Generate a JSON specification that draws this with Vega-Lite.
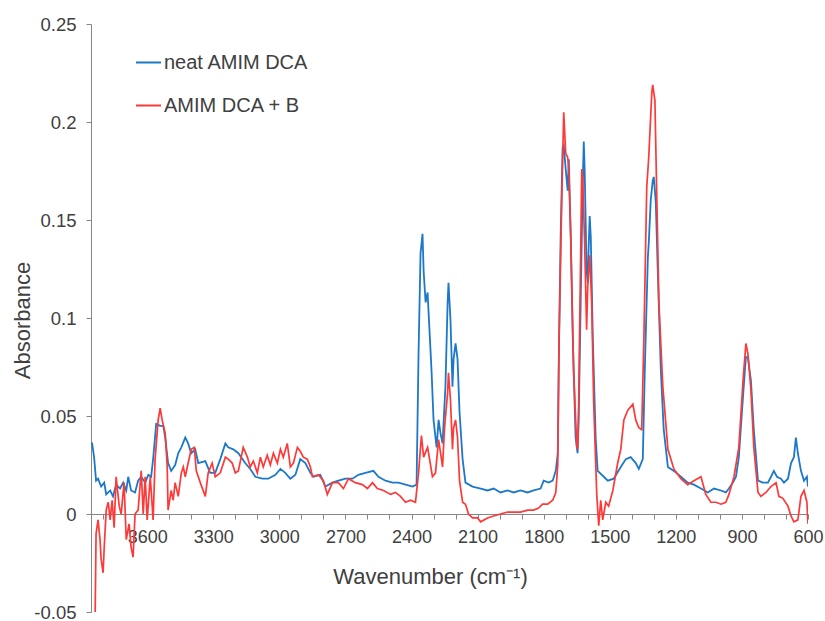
{
"$schema": "https://vega.github.io/schema/vega-lite/v6.json",
"width": 717, "height": 588,
"autosize": {"type": "none"},
"padding": {"left": 91, "top": 24, "right": 17, "bottom": 9},
"background": "white",
"config": {"view": {"stroke": null}, "font": "Liberation Sans"},
"datasets": {
"blue": [
{"w":3855,"a":0.036},{"w":3850,"a":0.036},{"w":3841,"a":0.029},{"w":3832,"a":0.017},{"w":3823,"a":0.018},{"w":3809,"a":0.014},{"w":3795,"a":0.016},{"w":3786,"a":0.010},{"w":3768,"a":0.012},{"w":3755,"a":0.009},{"w":3741,"a":0.015},{"w":3723,"a":0.013},{"w":3709,"a":0.016},{"w":3695,"a":0.012},{"w":3686,"a":0.019},{"w":3673,"a":0.012},{"w":3655,"a":0.011},{"w":3641,"a":0.017},{"w":3627,"a":0.019},{"w":3609,"a":0.016},{"w":3595,"a":0.020},{"w":3582,"a":0.019},{"w":3573,"a":0.028},{"w":3559,"a":0.046},{"w":3541,"a":0.045},{"w":3527,"a":0.045},{"w":3518,"a":0.039},{"w":3505,"a":0.026},{"w":3491,"a":0.022},{"w":3473,"a":0.025},{"w":3459,"a":0.031},{"w":3445,"a":0.034},{"w":3427,"a":0.039},{"w":3414,"a":0.036},{"w":3400,"a":0.031},{"w":3382,"a":0.033},{"w":3368,"a":0.026},{"w":3336,"a":0.027},{"w":3314,"a":0.021},{"w":3291,"a":0.021},{"w":3268,"a":0.028},{"w":3245,"a":0.036},{"w":3232,"a":0.034},{"w":3209,"a":0.033},{"w":3186,"a":0.031},{"w":3155,"a":0.026},{"w":3132,"a":0.023},{"w":3109,"a":0.019},{"w":3077,"a":0.018},{"w":3050,"a":0.018},{"w":3018,"a":0.020},{"w":2995,"a":0.023},{"w":2973,"a":0.021},{"w":2950,"a":0.018},{"w":2927,"a":0.020},{"w":2905,"a":0.028},{"w":2882,"a":0.026},{"w":2859,"a":0.021},{"w":2845,"a":0.019},{"w":2814,"a":0.020},{"w":2791,"a":0.014},{"w":2759,"a":0.016},{"w":2732,"a":0.017},{"w":2700,"a":0.018},{"w":2668,"a":0.018},{"w":2641,"a":0.020},{"w":2609,"a":0.021},{"w":2573,"a":0.022},{"w":2550,"a":0.019},{"w":2518,"a":0.017},{"w":2486,"a":0.016},{"w":2459,"a":0.016},{"w":2427,"a":0.015},{"w":2395,"a":0.014},{"w":2377,"a":0.015},{"w":2368,"a":0.082},{"w":2359,"a":0.133},{"w":2350,"a":0.143},{"w":2345,"a":0.124},{"w":2336,"a":0.108},{"w":2327,"a":0.113},{"w":2323,"a":0.104},{"w":2309,"a":0.073},{"w":2300,"a":0.048},{"w":2286,"a":0.034},{"w":2277,"a":0.048},{"w":2268,"a":0.041},{"w":2259,"a":0.036},{"w":2246,"a":0.065},{"w":2236,"a":0.108},{"w":2232,"a":0.118},{"w":2223,"a":0.099},{"w":2214,"a":0.065},{"w":2209,"a":0.079},{"w":2200,"a":0.087},{"w":2191,"a":0.079},{"w":2182,"a":0.052},{"w":2168,"a":0.028},{"w":2155,"a":0.016},{"w":2123,"a":0.014},{"w":2086,"a":0.013},{"w":2055,"a":0.012},{"w":2027,"a":0.013},{"w":1996,"a":0.011},{"w":1964,"a":0.012},{"w":1936,"a":0.011},{"w":1905,"a":0.012},{"w":1873,"a":0.011},{"w":1846,"a":0.012},{"w":1814,"a":0.013},{"w":1800,"a":0.017},{"w":1777,"a":0.016},{"w":1759,"a":0.017},{"w":1745,"a":0.022},{"w":1736,"a":0.031},{"w":1732,"a":0.073},{"w":1723,"a":0.141},{"w":1714,"a":0.187},{"w":1709,"a":0.188},{"w":1700,"a":0.176},{"w":1691,"a":0.165},{"w":1686,"a":0.181},{"w":1677,"a":0.141},{"w":1668,"a":0.090},{"w":1655,"a":0.039},{"w":1646,"a":0.031},{"w":1641,"a":0.048},{"w":1632,"a":0.108},{"w":1623,"a":0.167},{"w":1618,"a":0.190},{"w":1614,"a":0.176},{"w":1605,"a":0.124},{"w":1600,"a":0.118},{"w":1596,"a":0.135},{"w":1591,"a":0.152},{"w":1586,"a":0.141},{"w":1577,"a":0.090},{"w":1564,"a":0.039},{"w":1555,"a":0.022},{"w":1527,"a":0.019},{"w":1509,"a":0.017},{"w":1482,"a":0.018},{"w":1450,"a":0.024},{"w":1427,"a":0.028},{"w":1405,"a":0.029},{"w":1382,"a":0.026},{"w":1368,"a":0.023},{"w":1350,"a":0.028},{"w":1341,"a":0.073},{"w":1327,"a":0.131},{"w":1323,"a":0.138},{"w":1314,"a":0.160},{"w":1305,"a":0.170},{"w":1300,"a":0.172},{"w":1291,"a":0.159},{"w":1282,"a":0.124},{"w":1268,"a":0.073},{"w":1255,"a":0.043},{"w":1236,"a":0.024},{"w":1209,"a":0.022},{"w":1177,"a":0.019},{"w":1146,"a":0.016},{"w":1118,"a":0.015},{"w":1086,"a":0.013},{"w":1055,"a":0.011},{"w":1027,"a":0.013},{"w":995,"a":0.012},{"w":973,"a":0.011},{"w":959,"a":0.013},{"w":941,"a":0.016},{"w":927,"a":0.019},{"w":914,"a":0.029},{"w":895,"a":0.060},{"w":882,"a":0.080},{"w":873,"a":0.080},{"w":859,"a":0.068},{"w":846,"a":0.043},{"w":827,"a":0.017},{"w":805,"a":0.016},{"w":782,"a":0.016},{"w":768,"a":0.019},{"w":755,"a":0.022},{"w":741,"a":0.019},{"w":723,"a":0.018},{"w":709,"a":0.016},{"w":691,"a":0.018},{"w":677,"a":0.026},{"w":664,"a":0.029},{"w":655,"a":0.039},{"w":646,"a":0.031},{"w":632,"a":0.022},{"w":618,"a":0.017},{"w":605,"a":0.019},{"w":600,"a":0.014}
],
"red": [
{"w":3836,"a":-0.050},{"w":3832,"a":-0.010},{"w":3823,"a":-0.003},{"w":3814,"a":-0.013},{"w":3809,"a":-0.023},{"w":3800,"a":-0.030},{"w":3795,"a":-0.017},{"w":3786,"a":0.002},{"w":3777,"a":0.006},{"w":3768,"a":-0.003},{"w":3759,"a":0.007},{"w":3750,"a":-0.007},{"w":3741,"a":0.019},{"w":3727,"a":0.004},{"w":3718,"a":0.000},{"w":3705,"a":0.016},{"w":3695,"a":-0.013},{"w":3682,"a":-0.005},{"w":3673,"a":-0.017},{"w":3664,"a":-0.022},{"w":3655,"a":0.000},{"w":3641,"a":0.002},{"w":3627,"a":0.022},{"w":3618,"a":0.000},{"w":3609,"a":0.019},{"w":3600,"a":-0.003},{"w":3586,"a":0.019},{"w":3573,"a":-0.003},{"w":3564,"a":0.028},{"w":3550,"a":0.048},{"w":3541,"a":0.054},{"w":3532,"a":0.048},{"w":3518,"a":0.041},{"w":3509,"a":0.024},{"w":3505,"a":0.002},{"w":3491,"a":0.012},{"w":3482,"a":0.007},{"w":3473,"a":0.016},{"w":3459,"a":0.009},{"w":3445,"a":0.021},{"w":3436,"a":0.024},{"w":3427,"a":0.019},{"w":3414,"a":0.026},{"w":3400,"a":0.033},{"w":3386,"a":0.034},{"w":3377,"a":0.022},{"w":3359,"a":0.016},{"w":3336,"a":0.009},{"w":3323,"a":0.021},{"w":3305,"a":0.026},{"w":3291,"a":0.019},{"w":3268,"a":0.021},{"w":3245,"a":0.029},{"w":3232,"a":0.028},{"w":3214,"a":0.026},{"w":3200,"a":0.021},{"w":3186,"a":0.022},{"w":3164,"a":0.034},{"w":3145,"a":0.029},{"w":3132,"a":0.024},{"w":3118,"a":0.027},{"w":3100,"a":0.021},{"w":3086,"a":0.029},{"w":3073,"a":0.024},{"w":3055,"a":0.030},{"w":3041,"a":0.025},{"w":3027,"a":0.031},{"w":3009,"a":0.026},{"w":2995,"a":0.033},{"w":2982,"a":0.029},{"w":2964,"a":0.036},{"w":2950,"a":0.024},{"w":2936,"a":0.026},{"w":2918,"a":0.034},{"w":2905,"a":0.032},{"w":2891,"a":0.029},{"w":2873,"a":0.028},{"w":2859,"a":0.024},{"w":2850,"a":0.019},{"w":2823,"a":0.020},{"w":2800,"a":0.017},{"w":2782,"a":0.010},{"w":2759,"a":0.016},{"w":2732,"a":0.016},{"w":2709,"a":0.013},{"w":2686,"a":0.018},{"w":2655,"a":0.016},{"w":2623,"a":0.015},{"w":2600,"a":0.013},{"w":2577,"a":0.016},{"w":2555,"a":0.013},{"w":2527,"a":0.012},{"w":2495,"a":0.010},{"w":2473,"a":0.011},{"w":2450,"a":0.009},{"w":2427,"a":0.006},{"w":2405,"a":0.007},{"w":2382,"a":0.006},{"w":2368,"a":0.021},{"w":2355,"a":0.040},{"w":2345,"a":0.029},{"w":2327,"a":0.034},{"w":2318,"a":0.028},{"w":2305,"a":0.019},{"w":2291,"a":0.021},{"w":2277,"a":0.038},{"w":2259,"a":0.024},{"w":2250,"a":0.044},{"w":2236,"a":0.062},{"w":2232,"a":0.072},{"w":2223,"a":0.058},{"w":2214,"a":0.033},{"w":2209,"a":0.044},{"w":2200,"a":0.048},{"w":2191,"a":0.039},{"w":2182,"a":0.017},{"w":2168,"a":0.006},{"w":2155,"a":0.005},{"w":2141,"a":0.000},{"w":2123,"a":-0.002},{"w":2100,"a":-0.002},{"w":2086,"a":-0.004},{"w":2055,"a":-0.002},{"w":2027,"a":-0.001},{"w":1996,"a":0.000},{"w":1964,"a":0.001},{"w":1936,"a":0.001},{"w":1905,"a":0.001},{"w":1873,"a":0.002},{"w":1846,"a":0.002},{"w":1823,"a":0.003},{"w":1805,"a":0.005},{"w":1782,"a":0.005},{"w":1759,"a":0.007},{"w":1745,"a":0.011},{"w":1736,"a":0.025},{"w":1730,"a":0.090},{"w":1718,"a":0.160},{"w":1714,"a":0.180},{"w":1709,"a":0.205},{"w":1700,"a":0.184},{"w":1691,"a":0.182},{"w":1686,"a":0.176},{"w":1677,"a":0.141},{"w":1664,"a":0.073},{"w":1650,"a":0.035},{"w":1646,"a":0.033},{"w":1641,"a":0.057},{"w":1627,"a":0.176},{"w":1623,"a":0.172},{"w":1614,"a":0.138},{"w":1605,"a":0.094},{"w":1600,"a":0.116},{"w":1591,"a":0.132},{"w":1582,"a":0.108},{"w":1573,"a":0.057},{"w":1559,"a":0.010},{"w":1550,"a":-0.006},{"w":1541,"a":0.007},{"w":1532,"a":-0.003},{"w":1518,"a":0.006},{"w":1505,"a":0.004},{"w":1486,"a":0.012},{"w":1464,"a":0.026},{"w":1450,"a":0.033},{"w":1436,"a":0.048},{"w":1418,"a":0.053},{"w":1395,"a":0.056},{"w":1382,"a":0.048},{"w":1368,"a":0.044},{"w":1355,"a":0.043},{"w":1345,"a":0.090},{"w":1332,"a":0.167},{"w":1323,"a":0.182},{"w":1309,"a":0.215},{"w":1305,"a":0.219},{"w":1295,"a":0.211},{"w":1286,"a":0.159},{"w":1277,"a":0.108},{"w":1259,"a":0.065},{"w":1236,"a":0.033},{"w":1209,"a":0.023},{"w":1177,"a":0.018},{"w":1146,"a":0.015},{"w":1118,"a":0.017},{"w":1086,"a":0.019},{"w":1064,"a":0.010},{"w":1041,"a":0.006},{"w":1018,"a":0.006},{"w":995,"a":0.005},{"w":973,"a":0.006},{"w":959,"a":0.010},{"w":936,"a":0.019},{"w":914,"a":0.034},{"w":895,"a":0.068},{"w":882,"a":0.087},{"w":873,"a":0.082},{"w":859,"a":0.063},{"w":846,"a":0.034},{"w":827,"a":0.011},{"w":814,"a":0.009},{"w":791,"a":0.011},{"w":768,"a":0.014},{"w":745,"a":0.016},{"w":732,"a":0.009},{"w":714,"a":0.008},{"w":691,"a":0.004},{"w":677,"a":-0.001},{"w":664,"a":-0.004},{"w":646,"a":-0.003},{"w":632,"a":0.009},{"w":618,"a":0.012},{"w":605,"a":0.006},{"w":600,"a":-0.005}
]
},
"encoding": {
"x": {"field": "w", "type": "quantitative",
"scale": {"domain": [600, 3855], "reverse": true, "nice": false, "zero": false},
"axis": {"values": [3800,3700,3600,3500,3400,3300,3200,3100,3000,2900,2800,2700,2600,2500,2400,2300,2200,2100,2000,1900,1800,1700,1600,1500,1400,1300,1200,1100,1000,900,800,700,600],
"labelExpr": "datum.value % 300 == 0 ? '' + datum.value : ''",
"offset": -98, "tickSize": 5, "grid": false,
"domainColor": "#868686", "tickColor": "#868686", "domainWidth": 1, "tickWidth": 1,
"labelFontSize": 18, "labelColor": "#404040", "labelPadding": 9, "labelFlush": false, "labelOverlap": false,
"title": "Wavenumber (cm⁻¹)", "titleFontSize": 22, "titleFontWeight": "normal", "titleColor": "#404040",
"titleX": 339, "titleY": 69, "titleBaseline": "alphabetic", "titleAlign": "center"}},
"y": {"field": "a", "type": "quantitative",
"scale": {"domain": [-0.05, 0.25], "nice": false, "zero": false},
"axis": {"values": [-0.05, 0, 0.05, 0.1, 0.15, 0.2, 0.25],
"labelExpr": "'' + round(datum.value * 100) / 100",
"tickSize": 5, "grid": false,
"domainColor": "#868686", "tickColor": "#868686", "domainWidth": 1, "tickWidth": 1,
"labelFontSize": 18.5, "labelColor": "#404040", "labelPadding": 10,
"title": "Absorbance", "titleFontSize": 22, "titleFontWeight": "normal", "titleColor": "#404040",
"titleX": -62, "titleY": 296, "titleBaseline": "alphabetic", "titleAlign": "center", "titleAngle": -90}},
"color": {"field": "s", "type": "nominal",
"scale": {"domain": ["neat AMIM DCA", "AMIM DCA + B"], "range": ["#1c78c8", "#ff3838"]},
"legend": {"orient": "none", "legendX": 44, "legendY": 25, "title": null, "direction": "vertical",
"symbolType": "stroke", "symbolSize": 625, "symbolStrokeWidth": 2, "padding": 0,
"labelFontSize": 20, "labelColor": "#404040", "labelOffset": 2, "rowPadding": 19}}
},
"layer": [
{"data": {"name": "blue"},
"mark": {"type": "line", "strokeWidth": 1.8, "clip": true},
"encoding": {"color": {"datum": "neat AMIM DCA"}}},
{"data": {"name": "red"},
"mark": {"type": "line", "strokeWidth": 1.7, "clip": true},
"encoding": {"color": {"datum": "AMIM DCA + B"}}}
]
}
